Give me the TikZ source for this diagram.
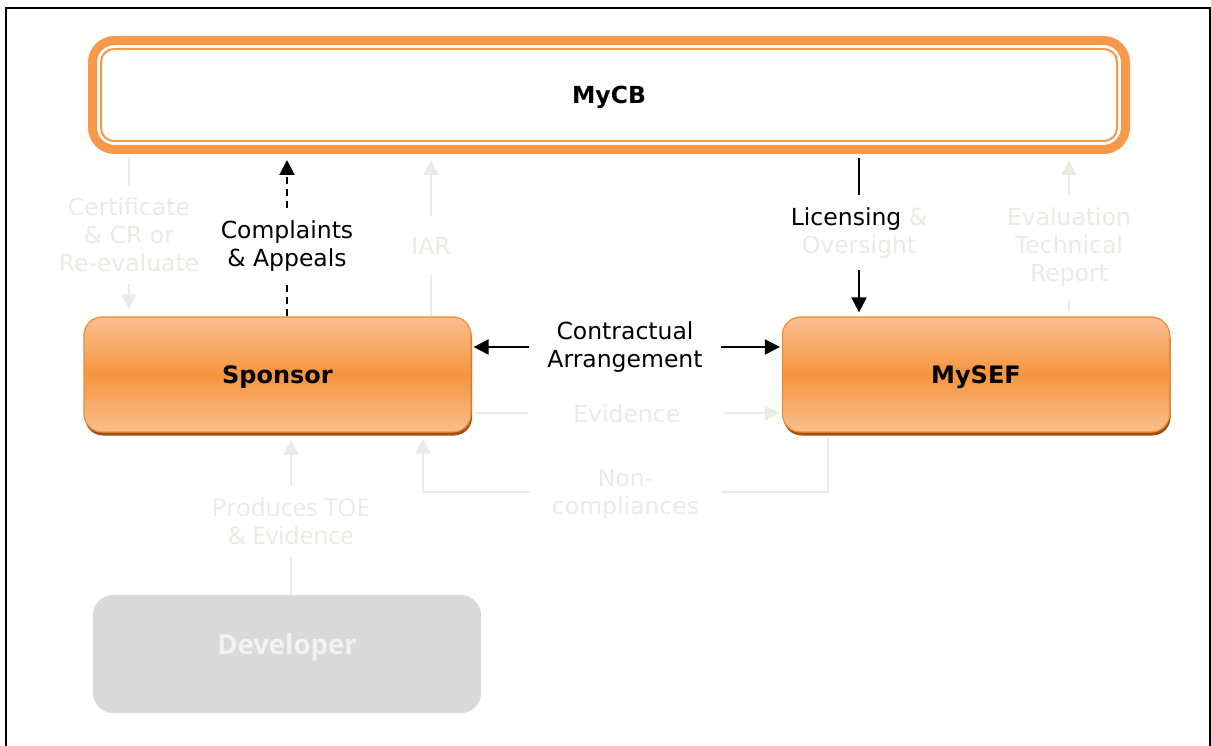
\documentclass[tikz,border=0pt]{standalone}
\usepackage{fontspec}
\setmainfont{DejaVu Sans}
\newfontfamily\opensans{Open Sans}
\usetikzlibrary{arrows.meta,calc,shadows}
\definecolor{orng}{HTML}{F7984A}
\definecolor{boxedge}{HTML}{EF8A35}
\definecolor{boxlight}{HTML}{F9BF8F}
\definecolor{boxmid}{HTML}{F6953F}
\definecolor{boxshadow}{HTML}{A44F0E}
\definecolor{faded}{HTML}{ECEAE2}
\definecolor{devfill}{HTML}{D9D9D9}
\definecolor{devtext}{HTML}{F2F2F2}
\begin{document}
\begin{tikzpicture}[x=1pt,y=-1pt,
  box/.style={rectangle, rounded corners=18pt, minimum width=387pt, minimum height=115pt,
    draw=boxedge, line width=1.2pt, top color=boxlight, bottom color=boxlight, middle color=boxmid,
    font=\bfseries\fontsize{24}{28}\selectfont, text=black, text depth=0pt,
    drop shadow={shadow xshift=1pt, shadow yshift=-3.5pt, fill=boxshadow, opacity=1}},
  mycbbox/.style={rectangle, rounded corners=22pt, minimum width=1033pt, minimum height=109pt,
    draw=orng, line width=9pt, fill=white, text depth=0pt, font=\bfseries\fontsize{23.5}{28}\selectfont},
  devbox/.style={rectangle, rounded corners=20pt, minimum width=388pt, minimum height=118pt,
    fill=devfill, text=devtext, text height=0pt, text depth=0pt, font=\opensans\bfseries\fontsize{27.5}{32}\selectfont},
  lbl/.style={font=\fontsize{23.5}{28}\selectfont, align=center, fill=white, inner ysep=12pt, inner xsep=4pt, yshift=-2.5pt},
  tip/.style={-{Triangle[length=15pt,width=15pt]}},
  blk/.style={draw=black, line width=2pt},
  fad/.style={draw=faded, line width=2pt},
]
\useasboundingbox (0,0) rectangle (1211,746);
% frame
\draw[line width=2pt] (6,746) -- (6,8) -- (1209.5,8) -- (1209.5,746);

% nodes
\node[mycbbox] (mycb) at (609,95) {MyCB};
\draw[orng, line width=2pt, rounded corners=13pt] ($(mycb.north west)+(13,13)$) rectangle ($(mycb.south east)+(-13,-13)$);
\node[box] (sponsor) at (277.5,374.5) {Sponsor};
\node[box] (mysef) at (976,374.5) {MySEF};
\node[devbox] (dev) at (287,654) {Developer};

% Certificate & CR or Re-evaluate
\draw[fad, tip, shorten <=3pt, shorten >=7pt] (mycb.south -| 129,0) --
  node[lbl, pos=0.48, text=faded] {Certificate\\\& CR or\\Re-evaluate} (sponsor.north -| 129,0);

% Complaints & Appeals
\draw[blk, tip, dash pattern=on 7pt off 5pt, shorten >=6pt] (sponsor.north -| 287,0) --
  node[lbl, pos=0.45, text=black] {Complaints\\\& Appeals} (mycb.south -| 287,0);

% IAR
\draw[fad, tip, shorten >=6pt] (sponsor.north -| 431,0) --
  node[lbl, pos=0.45, text=faded, inner ysep=21pt] {IAR} (mycb.south -| 431,0);

% Licensing & Oversight
\draw[blk, tip, shorten <=4.5pt, shorten >=4pt] (mycb.south -| 859,0) --
  node[lbl, pos=0.47, text=black] {Licensing {\color{faded}\&}\\{\color{faded}Oversight}} (mysef.north -| 859,0);

% Evaluation Technical Report
\draw[fad, tip, shorten <=5pt, shorten >=6pt] (mysef.north -| 1069,0) --
  node[lbl, pos=0.44, text=faded, inner ysep=13.5pt] {Evaluation\\Technical\\Report} (mycb.south -| 1069,0);

% Contractual Arrangement
\node[lbl, inner xsep=18pt, inner ysep=4pt, text=black] (contract) at (625,344.5) {Contractual\\Arrangement};
\draw[blk, tip, shorten >=2pt] (contract.west) -- (contract.west -| sponsor.east);
\draw[blk, tip, shorten >=2pt] (contract.east) -- (contract.east -| mysef.west);

% Evidence
\draw[fad, tip, shorten <=4pt, shorten >=2pt] (sponsor.east |- 0,413) --
  node[lbl, text=faded, inner xsep=45pt, inner ysep=4pt, yshift=1.5pt] {Evidence} (mysef.west |- 0,413);

% Non-compliances
\draw[fad, tip, shorten <=5pt, shorten >=6pt] (mysef.south -| 828,0) -- (828,492) --
  node[lbl, text=faded, inner xsep=22pt, inner ysep=4pt] {Non-\\compliances} (423,492) -- (sponsor.south -| 423,0);

% Produces TOE & Evidence
\draw[fad, tip, shorten >=7pt] (dev.north -| 291,0) --
  node[lbl, pos=0.45, text=faded, yshift=3pt, font=\opensans\fontsize{24.5}{28}\selectfont] {Produces TOE\\\& Evidence} (sponsor.south -| 291,0);
\end{tikzpicture}
\end{document}
